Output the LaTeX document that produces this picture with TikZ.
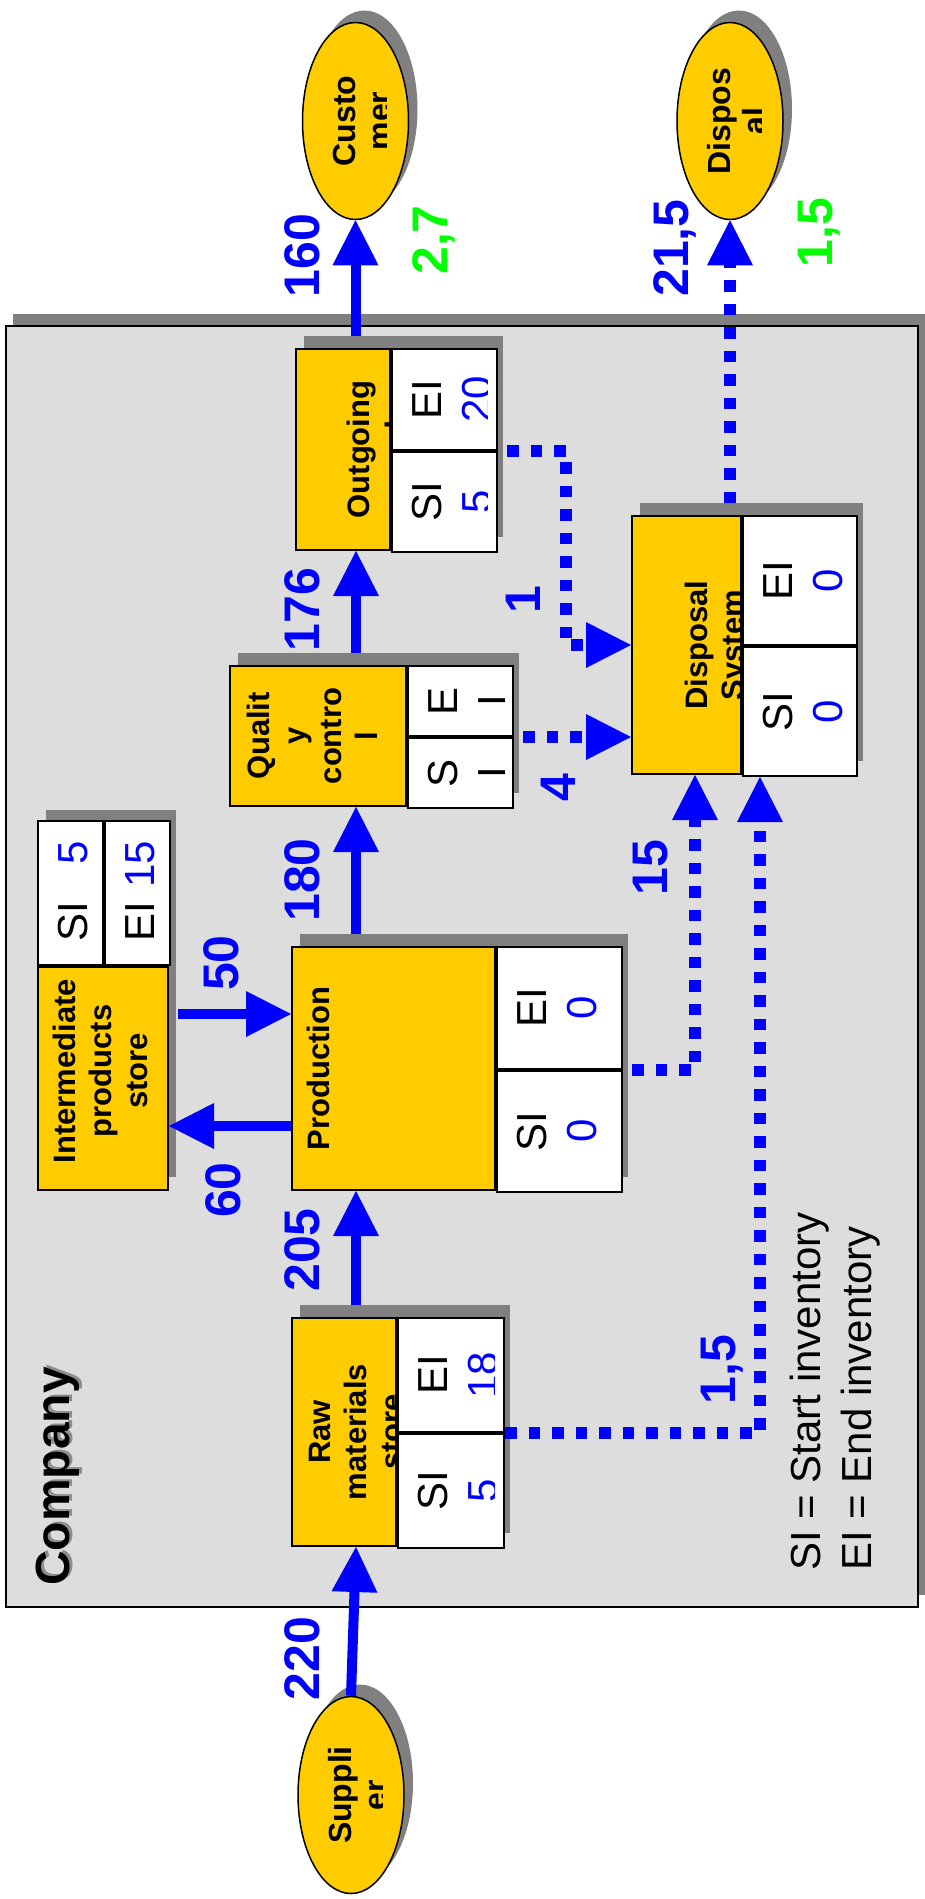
\documentclass[tikz,border=0pt]{standalone}
\usepackage{fontspec}
\setmainfont{Liberation Sans}
\usetikzlibrary{arrows.meta,positioning,shapes.geometric,calc}
\definecolor{boxyellow}{HTML}{FFCC00}
\definecolor{framegray}{HTML}{DDDDDD}
\definecolor{shadegray}{HTML}{808080}
\definecolor{flowblue}{HTML}{0000FF}
\definecolor{flowgreen}{HTML}{00FF00}
\tikzset{
  shadowfill/.style={fill=shadegray},
  framebox/.style={draw=black, line width=2pt, fill=framegray, inner sep=0pt},
  ybox/.style={draw=black, line width=2pt, fill=boxyellow, inner sep=0pt},
  cbox/.style={draw=black, line width=2pt, fill=white, inner sep=0pt},
  ell/.style={ellipse, draw=black, line width=1.5pt, fill=boxyellow, inner sep=0pt,
    minimum width=106pt, minimum height=197pt},
  flow/.style={draw=flowblue, line width=10pt,
    -{Triangle[length=45pt,width=46pt,line width=0pt]}},
  dotflow/.style={flow, line width=12pt, dash pattern=on 11.5pt off 12pt},
  titletxt/.style={rotate=90, anchor=north, align=center, inner sep=0pt,
    font=\fontsize{31}{36}\selectfont\bfseries},
  elltxt/.style={rotate=90, anchor=north, align=center, inner sep=0pt,
    font=\fontsize{32}{35}\selectfont\bfseries},
  celltxt/.style={rotate=90, anchor=north, align=center, inner sep=0pt,
    font=\fontsize{42}{50}\selectfont},
  numlbl/.style={rotate=90, anchor=base, inner sep=0pt, text=flowblue,
    font=\fontsize{50}{60}\selectfont\bfseries},
  legtxt/.style={rotate=90, anchor=base west, inner sep=0pt,
    font=\fontsize{42}{51}\selectfont},
  comptxt/.style={rotate=90, anchor=base, inner sep=0pt,
    font=\fontsize{48}{58}\selectfont\bfseries}
}

\begin{document}
\begin{tikzpicture}[x=1pt, y=-1pt]
\useasboundingbox (0,0) rectangle (925,1899);

% company frame
\fill[shadowfill] (13,314) rectangle (925,1595);
\node[framebox, minimum width=912pt, minimum height=1281pt, anchor=north west] (frame) at (5,325) {};
\node[comptxt, text=black!45] (compshd) at (72,1474.5) {Company};
\node[comptxt] (company) at (69,1476.5) {Company};
\node[legtxt] (legsi) at (820,1571) {SI = Start inventory};
\node[legtxt] (legei) at (871,1571) {EI = End inventory};

% shadows
\foreach \ua/\va/\ub/\vb in {300/1305/510/1533, 300/934/628/1177, 238/653/519/793,
                             304/336/503/537, 640/503/863/761, 46/810/176/1177}
  \fill[shadowfill] (\ua,\va) rectangle (\ub,\vb);
\foreach \eu/\ev in {360/1783, 364.5/109, 739/109}
  \fill[shadowfill] (\eu,\ev) ellipse [x radius=53, y radius=98.5];

% raw materials store
\node[ybox, minimum width=104pt, minimum height=228pt, anchor=north west] (rawt) at (291,1317) {};
\node[titletxt] (rawtxt) at ([xshift=14pt]rawt.west) {\strut Raw\\materials\\store};
\node[cbox, minimum width=106pt, minimum height=114pt, below right=0pt of rawt.north east] (rawei) {};
\node[cbox, minimum width=106pt, minimum height=114pt, below=0pt of rawei] (rawsi) {};
\begin{scope}
  \clip (rawei.north west) rectangle ([xshift=-11pt]rawsi.south east);
  \node[celltxt] (raweitxt) at ([xshift=15pt]rawei.west) {\strut EI\\\textcolor{flowblue}{18}};
  \node[celltxt] (rawsitxt) at ([xshift=15pt]rawsi.west) {\strut SI\\\textcolor{flowblue}{5}};
\end{scope}

% production
\node[ybox, minimum width=203pt, minimum height=243pt, anchor=north west] (prodt) at (291,946) {};
\node[titletxt] (prodtxt) at ([xshift=13pt]prodt.west) {\strut Production};
\node[cbox, minimum width=125pt, minimum height=121.5pt, below right=0pt of prodt.north east] (prodei) {};
\node[cbox, minimum width=125pt, minimum height=121.5pt, below=0pt of prodei] (prodsi) {};
\begin{scope}
  \clip (prodei.north west) rectangle ([xshift=-10pt]prodsi.south east);
  \node[celltxt] (prodeitxt) at ([xshift=15pt]prodei.west) {\strut EI\\\textcolor{flowblue}{0}};
  \node[celltxt] (prodsitxt) at ([xshift=15pt]prodsi.west) {\strut SI\\\textcolor{flowblue}{0}};
\end{scope}

% intermediate products store
\node[ybox, minimum width=130pt, minimum height=223pt, anchor=north west] (intt) at (37,966) {};
\node[titletxt] (inttxt) at ([xshift=13pt,yshift=7.5pt]intt.west) {\strut Intermediate\\products\\store};
\node[cbox, minimum width=65pt, minimum height=144pt, above right=0pt of intt.north west] (intsi) {};
\node[cbox, minimum width=65pt, minimum height=144pt, right=0pt of intsi] (intei) {};
\node[celltxt, anchor=base west] (intsil) at ([xshift=50pt,yshift=24pt]intsi.south west) {SI};
\node[celltxt, anchor=base east, text=flowblue] (intsiv) at ([xshift=50pt,yshift=-21pt]intsi.north west) {5};
\node[celltxt, anchor=base west] (inteil) at ([xshift=50pt,yshift=24pt]intei.south west) {EI};
\node[celltxt, anchor=base east, text=flowblue] (inteiv) at ([xshift=50pt,yshift=-21pt]intei.north west) {15};

% quality control
\node[ybox, minimum width=176pt, minimum height=140pt, anchor=north west] (qct) at (229,665) {};
\node[titletxt] (qctxt) at ([xshift=15pt]qct.west) {\strut Qualit\\y\\contro\\l};
\node[cbox, minimum width=105pt, minimum height=70pt, below right=0pt of qct.north east] (qcei) {};
\node[cbox, minimum width=105pt, minimum height=70pt, below=0pt of qcei] (qcsi) {};
\begin{scope}
  \clip (qcei.north west) rectangle ([xshift=-10pt]qcsi.south east);
  \node[celltxt] (qceitxt) at ([xshift=15pt]qcei.west) {\strut E\\I};
  \node[celltxt] (qcsitxt) at ([xshift=15pt]qcsi.west) {\strut S\\I};
\end{scope}

% outgoing goods
\node[ybox, minimum width=94pt, minimum height=201pt, anchor=north west] (outt) at (295,348) {};
\node[titletxt, font=\fontsize{31}{38.5}\selectfont\bfseries] (outtxt) at ([xshift=47pt]outt.west) {\strut Outgoing\\goods};
\node[cbox, minimum width=105pt, minimum height=100.5pt, below right=0pt of outt.north east] (outei) {};
\node[cbox, minimum width=105pt, minimum height=100.5pt, below=0pt of outei] (outsi) {};
\begin{scope}
  \clip (outei.north west) rectangle ([xshift=-11pt]outsi.south east);
  \node[celltxt] (outeitxt) at ([xshift=15pt]outei.west) {\strut EI\\\textcolor{flowblue}{20}};
  \node[celltxt] (outsitxt) at ([xshift=15pt]outsi.west) {\strut SI\\\textcolor{flowblue}{5}};
\end{scope}

% disposal system
\node[ybox, minimum width=109pt, minimum height=258pt, anchor=north west] (distt) at (631,515) {};
\node[titletxt] (disttxt) at ([xshift=51pt]distt.west) {\strut Disposal\\System};
\node[cbox, minimum width=114pt, minimum height=129pt, below right=0pt of distt.north east] (distei) {};
\node[cbox, minimum width=114pt, minimum height=129pt, below=0pt of distei] (distsi) {};
\begin{scope}
  \clip (distei.north west) rectangle ([xshift=-10pt]distsi.south east);
  \node[celltxt] (disteitxt) at ([xshift=15pt]distei.west) {\strut EI\\\textcolor{flowblue}{0}};
  \node[celltxt] (distsitxt) at ([xshift=15pt]distsi.west) {\strut SI\\\textcolor{flowblue}{0}};
\end{scope}

% outside partners
\node[ell] (sup) at (351,1795) {};
\begin{scope}
  \clip (sup.west |- sup.north) rectangle ([xshift=31pt]sup.south);
  \node[elltxt] (suptxt) at ([xshift=-24.5pt]sup.center) {\strut Suppli\\er};
\end{scope}
\node[ell] (cust) at (355.5,121) {};
\begin{scope}
  \clip (cust.west |- cust.north) rectangle ([xshift=31pt]cust.south);
  \node[elltxt] (custtxt) at ([xshift=-24.5pt]cust.center) {\strut Custo\\mer};
\end{scope}
\node[ell] (dispo) at (730,121) {};
\begin{scope}
  \clip (dispo.west |- dispo.north) rectangle ([xshift=31pt]dispo.south);
  \node[elltxt] (dispotxt) at ([xshift=-24.5pt]dispo.center) {\strut Dispos\\al};
\end{scope}

% material flows
\coordinate (chain) at (356,0);
\draw[flow] (sup.north) -- (rawt.south -| chain);
\draw[flow] ($(rawt.north -| chain)+(0,-12)$) -- (prodt.south -| chain);
\draw[flow] ($(prodt.north -| chain)+(0,-12)$) -- (qct.south -| chain);
\draw[flow] ($(qct.north -| chain)+(0,-12)$) -- (outt.south -| chain);
\draw[flow] ($(outt.north -| cust.south)+(0,-12)$) -- (cust.south);
\coordinate (p60) at ([yshift=-57.5pt]prodt.west);
\draw[flow] (p60) -- (p60 -| intt.east);
\coordinate (p50) at ([yshift=54.5pt]prodt.west);
\draw[flow] ($(p50 -| intt.east)+(9,0)$) -- (p50);

% waste flows
\draw[dotflow] ($(outei.south east)+(9,0)$) -- ++(59,0) |- (distt.west);
\draw[dotflow] ($(qcei.south east)+(9,0)$) -- (qcei.south east -| distt.west);
\draw[dotflow] ($(prodei.south east)+(9,0)$) -| ([xshift=8.5pt]distt.south);
\draw[dotflow] (rawei.south east) -| ([xshift=-40pt]distsi.south);
\draw[dotflow] ($(distt.north -| dispo.south)+(0,-12)$) -- (dispo.south);

% quantities
\node[numlbl] (l220) at (319,1658.5) {220};
\node[numlbl] (l205) at (319,1250) {205};
\node[numlbl] (l180) at (319,880) {180};
\node[numlbl] (l176) at (319,609.5) {176};
\node[numlbl] (l160) at (319,255.5) {160};
\node[numlbl] (l60) at (240,1190) {60};
\node[numlbl] (l50) at (238,963) {50};
\node[numlbl, text=flowgreen] (g27) at (447,240) {2,7};
\node[numlbl] (l215) at (688,248) {21,5};
\node[numlbl, text=flowgreen] (g15) at (832,232.5) {1,5};
\node[numlbl] (l1) at (540,600) {1};
\node[numlbl] (l4) at (575,788) {4};
\node[numlbl] (l15) at (667,867.5) {15};
\node[numlbl] (l1c5) at (735,1369.5) {1,5};
\end{tikzpicture}
\end{document}
